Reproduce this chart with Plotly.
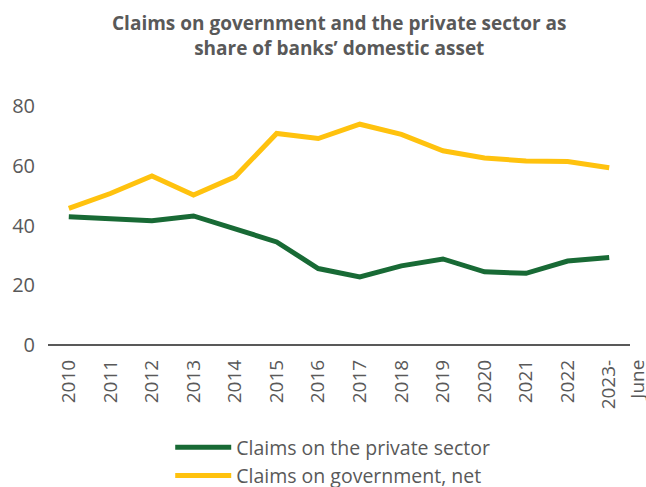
import plotly.graph_objects as go

# Share of banks' domestic assets, percent
periods = ["2010", "2011", "2012", "2013", "2014", "2015", "2016",
           "2017", "2018", "2019", "2020", "2021", "2022", "2023-June"]
tick_labels = ["2010", "2011", "2012", "2013", "2014", "2015", "2016",
               "2017", "2018", "2019", "2020", "2021", "2022", "2023-"]
last_tick_suffix = "June"
private_sector = [42.9, 42.3, 41.6, 43.2, 38.7, 34.5, 25.6,
                  22.8, 26.5, 28.8, 24.5, 24.0, 28.1, 29.3]
government_net = [45.7, 50.7, 56.6, 50.2, 56.3, 70.8, 69.1,
                  73.9, 70.5, 65.0, 62.6, 61.6, 61.4, 59.3]

y_ticks = [0, 20, 40, 60, 80]

GREEN = "#186a35"
YELLOW = "#ffc20e"
GREY = "#595959"
FONT = "Open Sans"

PLOT_TOP, PLOT_BOTTOM = 106, 345
PLOT_H = PLOT_BOTTOM - PLOT_TOP
TICK_SIZE = 19
LABEL_GAP = 14  # space between the zero line and the rotated tick labels

fig = go.Figure()
fig.add_trace(go.Scatter(
    x=periods, y=private_sector, mode="lines",
    name="Claims on the private sector",
    line=dict(color=GREEN, width=5),
))
fig.add_trace(go.Scatter(
    x=periods, y=government_net, mode="lines",
    name="Claims on government, net",
    line=dict(color=YELLOW, width=5),
))

# Chart title
fig.add_annotation(
    text="<b>Claims on government and the private sector as<br>share of banks’ domestic asset</b>",
    xref="paper", x=0.5, xanchor="center",
    yref="paper", y=(PLOT_BOTTOM - 8) / PLOT_H, yanchor="top",
    showarrow=False, align="center",
    font=dict(family=FONT, size=19, color=GREY),
)

# Second line of the last period label, set beside "2023-"
fig.add_annotation(
    text=last_tick_suffix,
    x=periods[-1], xref="x", xshift=27,
    yref="paper", y=-(LABEL_GAP - 1) / PLOT_H, yanchor="top",
    textangle=-90, showarrow=False,
    font=dict(family=FONT, size=TICK_SIZE, color=GREY),
)

fig.update_layout(
    width=646, height=487,
    margin=dict(l=48, r=16, t=PLOT_TOP, b=487 - PLOT_BOTTOM, autoexpand=False),
    paper_bgcolor="white", plot_bgcolor="white",
    font=dict(family=FONT, color=GREY, size=18),
    xaxis=dict(
        type="category",
        range=[-0.5, 13.5],
        tickmode="array", tickvals=periods, ticktext=tick_labels,
        tickangle=-90,
        showgrid=False, zeroline=False,
        showline=False, ticks="",
        ticklabelstandoff=LABEL_GAP - 4,
        tickfont=dict(size=TICK_SIZE, color=GREY),
    ),
    yaxis=dict(
        range=[0, 80],
        tickvals=y_ticks,
        showgrid=False, zeroline=True,
        zerolinecolor=GREY, zerolinewidth=2,
        showline=False, ticks="",
        ticklabelstandoff=12,
        tickfont=dict(size=20, color=GREY),
    ),
    legend=dict(
        orientation="v",
        x=0.21, xanchor="left",
        yref="container", y=1 - 428 / 487, yanchor="top",
        font=dict(size=19.5, color=GREY),
        tracegroupgap=0,
        itemwidth=56,
    ),
    showlegend=True,
)

fig.write_html("out.html")
